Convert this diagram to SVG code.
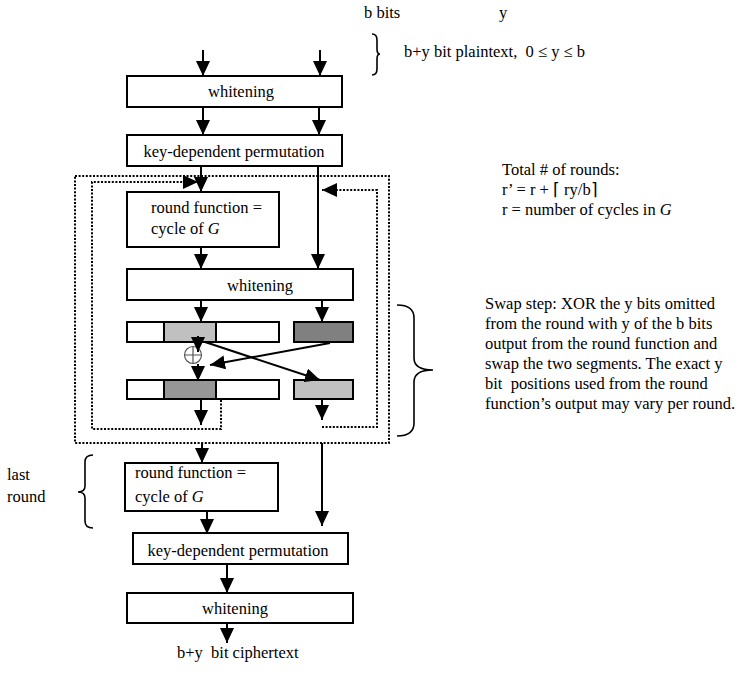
<svg xmlns="http://www.w3.org/2000/svg" width="743" height="674" viewBox="0 0 743 674">
  <style>
    text { font-family: "Liberation Serif", "Times New Roman", serif; font-size: 16.5px; fill: #000; white-space: pre; }
    .box { fill: #fff; stroke: #000; stroke-width: 2; }
    .light { fill: #c0c0c0; stroke: #000; stroke-width: 2; }
    .mid { fill: #969696; stroke: #000; stroke-width: 2; }
    .dark { fill: #808080; stroke: #000; stroke-width: 2; }
    .wire { fill: none; stroke: #000; stroke-width: 2; }
    .dot { fill: none; stroke: #000; stroke-width: 2; stroke-dasharray: 2 1.6; }
    .brace { fill: none; stroke: #000; stroke-width: 1.6; }
    .mid-text { text-anchor: middle; }
  </style>
  <defs>
    <marker id="arrow" viewBox="0 0 15 14" refX="15" refY="7" markerWidth="15" markerHeight="14" markerUnits="userSpaceOnUse" orient="auto">
      <path d="M0,0 L15,7 L0,14 z" fill="#000"/>
    </marker>
  </defs>

  <!-- labels above the input -->
  <g id="input-labels">
    <text x="364" y="18">b bits</text>
    <text x="499" y="18">y</text>
    <path class="brace" d="M372,34 Q377,34 377,40 V49 Q377,54 380,54 Q377,54 377,59 V69 Q377,75 372,75"/>
    <text x="404" y="57">b+y bit plaintext,  0 ≤ y ≤ b</text>
  </g>

  <g id="whitening-in">
    <rect class="box" x="127" y="76" width="215" height="31"/>
    <text x="241" y="97" class="mid-text">whitening</text>
  </g>

  <g id="permutation-in">
    <rect class="box" x="127" y="135" width="215" height="31"/>
    <text x="234" y="157" class="mid-text">key-dependent permutation</text>
  </g>

  <!-- repeated round (dotted frame) -->
  <g id="round-frame">
    <rect class="dot" x="75" y="176" width="314" height="267"/>
  </g>

  <g id="round-function">
    <rect class="box" x="127" y="192" width="152" height="55"/>
    <text x="151" y="213">round function =</text>
    <text x="151" y="234">cycle of <tspan font-style="italic">G</tspan></text>
  </g>

  <g id="whitening-round">
    <rect class="box" x="127" y="269" width="226" height="31"/>
    <text x="260" y="291" class="mid-text">whitening</text>
  </g>

  <g id="swap-before">
    <rect class="box" x="127" y="322" width="152" height="20"/>
    <rect class="light" x="164" y="322" width="52" height="20"/>
    <rect class="dark" x="294" y="322" width="59" height="20"/>
  </g>

  <g id="xor">
    <circle cx="193" cy="355" r="8.5" fill="#fff" stroke="#555" stroke-width="1.2"/>
    <path d="M184.5,355 H201.5 M193,346.5 V363.5" stroke="#555" stroke-width="1.2"/>
  </g>

  <g id="swap-after">
    <rect class="box" x="127" y="380" width="152" height="19"/>
    <rect class="mid" x="164" y="380" width="52" height="19"/>
    <rect class="light" x="294" y="380" width="59" height="19"/>
  </g>

  <g id="round-function-last">
    <rect class="box" x="125" y="463" width="153" height="48"/>
    <text x="135" y="478">round function =</text>
    <text x="135" y="502">cycle of <tspan font-style="italic">G</tspan></text>
  </g>

  <g id="permutation-out">
    <rect class="box" x="133" y="533" width="215" height="31"/>
    <text x="238" y="556" class="mid-text">key-dependent permutation</text>
  </g>

  <g id="whitening-out">
    <rect class="box" x="127" y="593" width="226" height="30"/>
    <text x="235" y="614" class="mid-text">whitening</text>
  </g>

  <g id="output-label">
    <text x="177" y="658">b+y  bit ciphertext</text>
  </g>

  <!-- notes on the right -->
  <g id="rounds-note">
    <text x="502" y="175">Total # of rounds:</text>
    <text x="502" y="195">r’ = r + ⌈ ry/b⌉</text>
    <text x="502" y="215">r = number of cycles in <tspan font-style="italic">G</tspan></text>
  </g>

  <g id="swap-note">
    <path class="brace" d="M397,305 Q414,305 414,318 V358 Q414,370 433,370 Q414,370 414,382 V423 Q414,436 397,436"/>
    <text x="485" y="309">Swap step: XOR the y bits omitted</text>
    <text x="485" y="329">from the round with y of the b bits</text>
    <text x="485" y="349">output from the round function and</text>
    <text x="485" y="369">swap the two segments. The exact y</text>
    <text x="485" y="389">bit  positions used from the round</text>
    <text x="485" y="409">function’s output may vary per round.</text>
  </g>

  <g id="last-round-note">
    <path class="brace" d="M93,455 Q85,455 85,462 V486 Q85,492 78,492 Q85,492 85,498 V521 Q85,528 93,528"/>
    <text x="7" y="480">last</text>
    <text x="7" y="502">round</text>
  </g>

  <!-- connectors -->
  <g id="connectors">
    <path class="wire" d="M203,50 V76" marker-end="url(#arrow)"/>
    <path class="wire" d="M320,50 V76" marker-end="url(#arrow)"/>
    <path class="wire" d="M203,107 V135" marker-end="url(#arrow)"/>
    <path class="wire" d="M319,107 V135" marker-end="url(#arrow)"/>
    <path class="wire" d="M201,166 V192" marker-end="url(#arrow)"/>
    <path class="wire" d="M318,166 V269" marker-end="url(#arrow)"/>
    <path class="wire" d="M201,247 V269" marker-end="url(#arrow)"/>
    <path class="wire" d="M201,300 V322" marker-end="url(#arrow)"/>
    <path class="wire" d="M322,300 V322" marker-end="url(#arrow)"/>
    <path class="wire" d="M198,336 V352" marker-end="url(#arrow)"/>
    <path class="wire" d="M198,364 V381" marker-end="url(#arrow)"/>
    <path class="wire" d="M330,343 L210,365" marker-end="url(#arrow)"/>
    <path class="wire" d="M205,342 L320,380" marker-end="url(#arrow)"/>
    <path class="wire" d="M201,399 V425" marker-end="url(#arrow)"/>
    <path class="wire" d="M322,399 V420" marker-end="url(#arrow)"/>
    <path class="wire" d="M202,443 V463" marker-end="url(#arrow)"/>
    <path class="wire" d="M322,443 V526" marker-end="url(#arrow)"/>
    <path class="wire" d="M207,511 V534" marker-end="url(#arrow)"/>
    <path class="wire" d="M227,564 V593" marker-end="url(#arrow)"/>
    <path class="wire" d="M227,623 V643" marker-end="url(#arrow)"/>
    <!-- feedback loops to the next round -->
    <path class="dot" d="M221,400 V429 H92 V182 H198" marker-end="url(#arrow)"/>
    <path class="dot" d="M322,427 H377 V190 H322" marker-end="url(#arrow)"/>
  </g>
</svg>
